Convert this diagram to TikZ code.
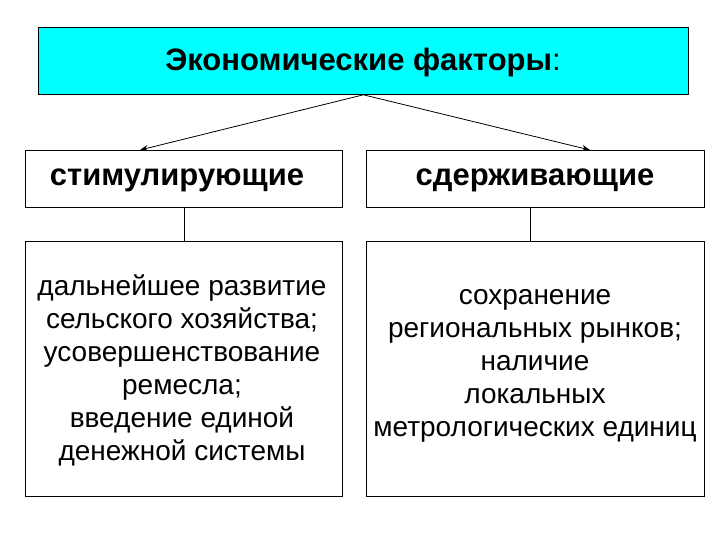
\documentclass[tikz,border=0pt]{standalone}
\usepackage{fontspec}
\usetikzlibrary{arrows.meta}
\setmainfont{Liberation Sans}
\definecolor{aqua}{RGB}{0,255,255}
\begin{document}
\begin{tikzpicture}[x=1pt,y=-1pt,
  box/.style={draw=black,line width=0.8pt,anchor=north west,inner sep=0pt},
  big/.style={font=\fontsize{31}{36}\selectfont},
  body/.style={align=center,font=\fontsize{28}{33}\selectfont},
  arr/.style={-{Stealth[length=8pt,width=6pt]},line width=0.8pt},
  ln/.style={line width=0.8pt}]
\useasboundingbox (0,0) rectangle (720,540);
\node[box,fill=aqua,minimum width=650pt,minimum height=67pt] (top) at (38,27) {};
\node[big] (toptxt) at (363,62) {\textbf{Экономические факторы}:};
\node[box,minimum width=317pt,minimum height=57pt] (l) at (25,150) {};
\node[big] (lt) at (177,180) {\textbf{стимулирующие}};
\node[box,minimum width=338pt,minimum height=57pt] (r) at (366,150) {};
\node[big] (rt) at (535,180) {\textbf{сдерживающие}};
\node[box,minimum width=317pt,minimum height=255pt] (lb) at (25,241) {};
\node[body] (lbt) at (182,370) {дальнейшее развитие\\сельского хозяйства;\\усовершенствование\\ремесла;\\введение единой\\денежной системы};
\node[box,minimum width=338pt,minimum height=255pt] (rb) at (366,241) {};
\node[body] (rbt) at (535,366) {сохранение\\региональных рынков;\\наличие\\локальных\\метрологических единиц};
\coordinate (tl) at (140,150);
\coordinate (tr) at (590,150);
\draw[arr] (top.south) -- (tl);
\draw[arr] (top.south) -- (tr);
\draw[ln] (l.south -| 184,0) -- (lb.north -| 184,0);
\draw[ln] (r.south -| 530,0) -- (rb.north -| 530,0);
\end{tikzpicture}
\end{document}
